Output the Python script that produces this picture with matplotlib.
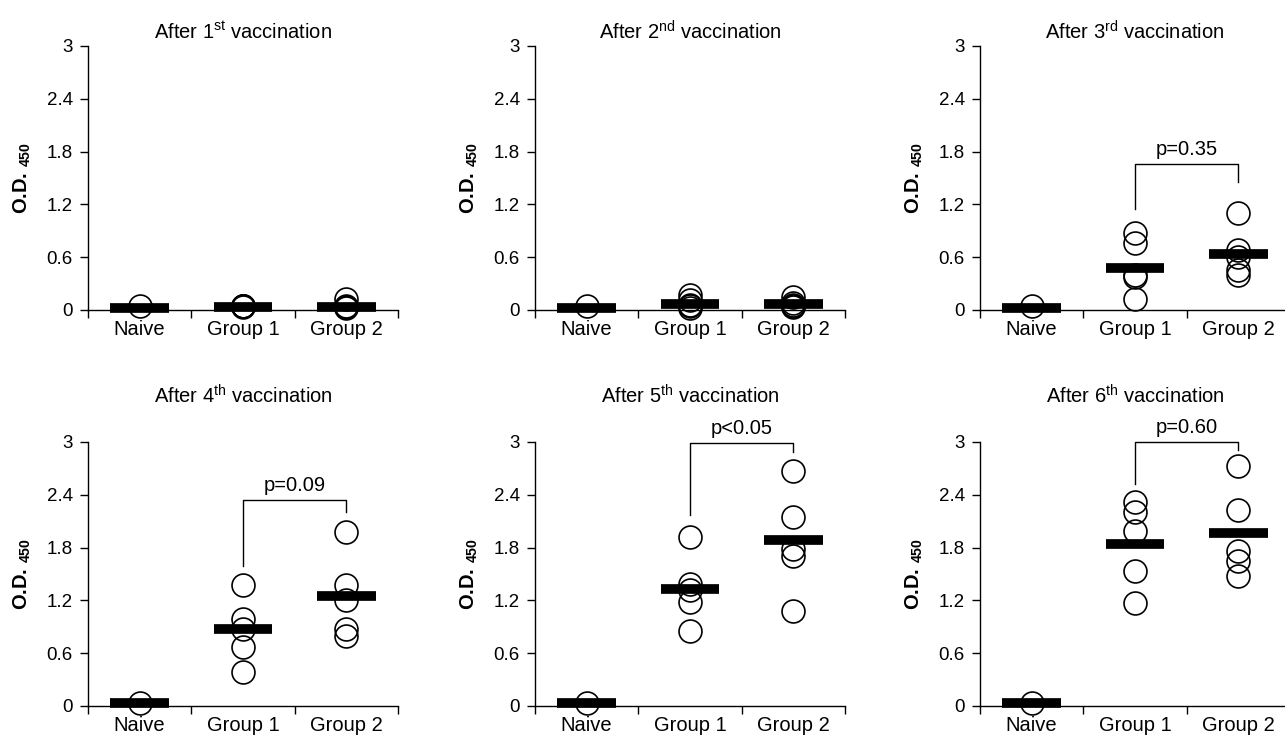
import matplotlib
matplotlib.use('Agg')
import matplotlib.pyplot as plt

plt.rcParams['font.family'] = ['Liberation Sans', 'DejaVu Sans']
plt.rcParams['mathtext.fontset'] = 'custom'
plt.rcParams['mathtext.rm'] = 'Liberation Sans'
plt.rcParams['mathtext.bf'] = 'Liberation Sans:bold'

groups = ['Naive', 'Group 1', 'Group 2']
ordinals = ['st', 'nd', 'rd', 'th', 'th', 'th']
yticks = [0, 0.6, 1.2, 1.8, 2.4, 3]
ytick_labels = ['0', '0.6', '1.2', '1.8', '2.4', '3']

# individual O.D. values per vaccination
naive = [[0.04], [0.04], [0.04], [0.03], [0.03], [0.03]]
group1 = [
    [0.04, 0.04, 0.03, 0.04, 0.04],
    [0.17, 0.11, 0.06, 0.02, 0.04],
    [0.87, 0.76, 0.38, 0.12, 0.40],
    [1.37, 0.99, 0.88, 0.67, 0.39],
    [1.92, 1.39, 1.32, 1.18, 0.85],
    [2.32, 2.21, 1.99, 1.53, 1.17],
]
group2 = [
    [0.12, 0.03, 0.02, 0.04, 0.03],
    [0.15, 0.04, 0.06, 0.03, 0.08],
    [1.10, 0.68, 0.60, 0.45, 0.40],
    [1.98, 1.37, 1.20, 0.88, 0.80],
    [2.67, 2.15, 1.78, 1.71, 1.08],
    [2.73, 2.23, 1.76, 1.65, 1.48],
]
# mean bars (naive, group 1, group 2)
means = [
    [0.02, 0.03, 0.03],
    [0.02, 0.07, 0.07],
    [0.02, 0.48, 0.64],
    [0.03, 0.87, 1.25],
    [0.03, 1.33, 1.89],
    [0.03, 1.84, 1.97],
]
# p-value brackets
p_text = [None, None, 'p=0.35', 'p=0.09', 'p<0.05', 'p=0.60']
p_left = [None, None, 1.15, 1.59, 2.17, 2.52]
p_top = [None, None, 1.66, 2.34, 2.99, 3.00]
p_right = [None, None, 1.45, 2.21, 2.89, 2.91]

fig = plt.figure(figsize=(12.85, 7.4), dpi=100)
lefts = [88 / 1285, 535 / 1285, 980 / 1285]
bottoms = [1 - 310 / 740, 1 - 706 / 740]
w = 310 / 1285
h = 264 / 740

for i in range(6):
    ax = fig.add_axes([lefts[i % 3], bottoms[i // 3], w, h])
    vals = [naive[i], group1[i], group2[i]]
    for j, v in enumerate(vals):
        x = j + 0.5
        ax.plot([x] * len(v), v, 'o', ms=16.5, mfc='none', mec='black',
                mew=1.2, clip_on=False, zorder=3)
        ax.plot([x - 0.285, x + 0.285], [means[i][j]] * 2, color='black',
                lw=7, solid_capstyle='butt', clip_on=False, zorder=4)
    if p_text[i] is not None:
        ax.plot([1.5, 1.5, 2.5, 2.5], [p_left[i], p_top[i], p_top[i], p_right[i]],
                color='black', lw=1.0, clip_on=False)
        ax.text(2.0, p_top[i] + 0.06, p_text[i], ha='center', va='bottom',
                fontsize=14.5)

    ax.set_xlim(0, 3)
    ax.set_ylim(0, 3)
    ax.set_yticks(yticks)
    ax.set_yticklabels(ytick_labels, fontsize=13.5)
    ax.set_xticks([0.5, 1.5, 2.5])
    ax.set_xticklabels(groups, fontsize=14.5)
    ax.set_xticks([0, 1, 2, 3], minor=True)
    ax.tick_params(axis='x', which='major', length=0, pad=7)
    ax.tick_params(axis='x', which='minor', length=6, direction='out', width=1)
    ax.tick_params(axis='y', length=6, width=1, pad=5)
    for s in ['top', 'right']:
        ax.spines[s].set_visible(False)
    ax.spines['left'].set_linewidth(1)
    ax.spines['bottom'].set_linewidth(1)
    ax.set_ylabel(r'O.D. $_{\mathregular{450}}$', fontsize=14.5,
                  fontweight='bold', labelpad=10)
    n = i + 1
    title = 'After ' + str(n) + r'$^{\mathregular{' + ordinals[i] + '}}$ vaccination'
    ty = 1.025 if i < 3 else 1.145
    ax.set_title(title, fontsize=14.5, y=ty, pad=0)

fig.savefig('out.png', dpi=100)
